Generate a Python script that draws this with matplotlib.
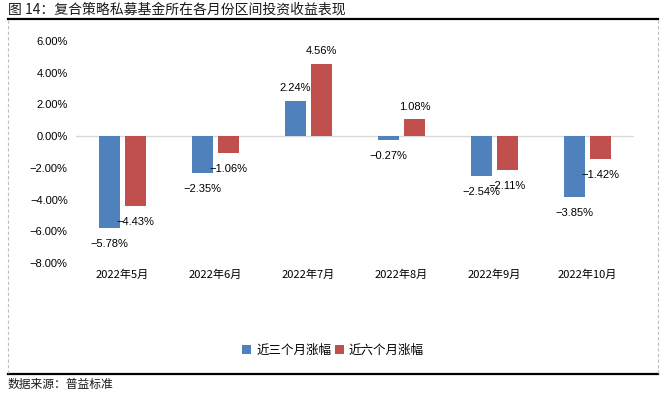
import matplotlib
matplotlib.use("Agg")
import matplotlib.pyplot as plt
from matplotlib.lines import Line2D
from matplotlib.patches import Patch
import numpy as np

plt.rcParams['font.family'] = ['Noto Sans CJK SC', 'DejaVu Sans']

categories = ["2022年5月", "2022年6月", "2022年7月", "2022年8月", "2022年9月", "2022年10月"]
series_names = ["近三个月涨幅", "近六个月涨幅"]
three_month = [-5.78, -2.35, 2.24, -0.27, -2.54, -3.85]
six_month = [-4.43, -1.06, 4.56, 1.08, -2.11, -1.42]
y_ticks = [6, 4, 2, 0, -2, -4, -6, -8]

colors = ["#4F81BD", "#C0504D"]
W, H = 667, 393
fig = plt.figure(figsize=(W / 100, H / 100), dpi=100)

def fx(px):
    return px / W

def fy(py):
    return 1 - py / H

def pct(v):
    return f"{v:.2f}%" if v >= 0 else f"\u2212{abs(v):.2f}%"

ax = fig.add_axes([fx(76), fy(263), fx(634) - fx(76), fy(41) - fy(263)])
x = np.arange(len(categories))
bw = 0.226
off = 0.14
num_font = dict(family=['Liberation Sans', 'Noto Sans CJK SC'], size=8, color='#000000')

for vals, dx, c in [(three_month, -off, colors[0]), (six_month, off, colors[1])]:
    ax.bar(x + dx, vals, width=bw, color=c, zorder=3)
    for xi, v in zip(x, vals):
        yoff = 9 if v >= 0 else -11.5
        ax.annotate(pct(v), (xi + dx, v), xytext=(0, yoff), textcoords='offset points',
                    ha='center', va='center', **num_font)

ax.axhline(0, color='#D9D9D9', lw=1.0, zorder=2)
ax.set_xlim(-0.5, len(categories) - 0.5)
ax.set_ylim(-8, 6)
ax.set_yticks(y_ticks)
ax.set_yticklabels([pct(t) for t in y_ticks],
                   fontfamily=['Liberation Sans', 'Noto Sans CJK SC'], fontsize=8)
ax.set_xticks(x)
ax.set_xticklabels(categories, fontsize=8)
ax.tick_params(axis='y', length=0, pad=6)
ax.tick_params(axis='x', length=0, pad=5)
for s in ax.spines.values():
    s.set_visible(False)

# frame lines
fig.add_artist(Line2D([fx(8), fx(658)], [fy(19), fy(19)], color='black', lw=1.6))
fig.add_artist(Line2D([fx(8), fx(658)], [fy(374), fy(374)], color='black', lw=1.6))
for xx in [8, 658]:
    fig.add_artist(Line2D([fx(xx), fx(xx)], [fy(20), fy(373)], color='#BFBFBF', lw=0.8,
                          linestyle=(0, (3, 2))))

fig.text(fx(8), fy(10), "图 14：复合策略私募基金所在各月份区间投资收益表现", fontsize=10,
         color='#1a1a1a', ha='left', va='center')
fig.text(fx(8), fy(384), "数据来源：普益标准", fontsize=8.5, color='#1a1a1a', ha='left', va='center')

handles = [Patch(facecolor=colors[0], label=series_names[0]),
           Patch(facecolor=colors[1], label=series_names[1])]
fig.legend(handles=handles, loc='center', bbox_to_anchor=(fx(333), fy(350)), ncol=2,
           frameon=False, fontsize=9, handlelength=0.7, handleheight=0.7, handletextpad=0.4,
           columnspacing=0.3)

fig.savefig("out.png", dpi=100)
